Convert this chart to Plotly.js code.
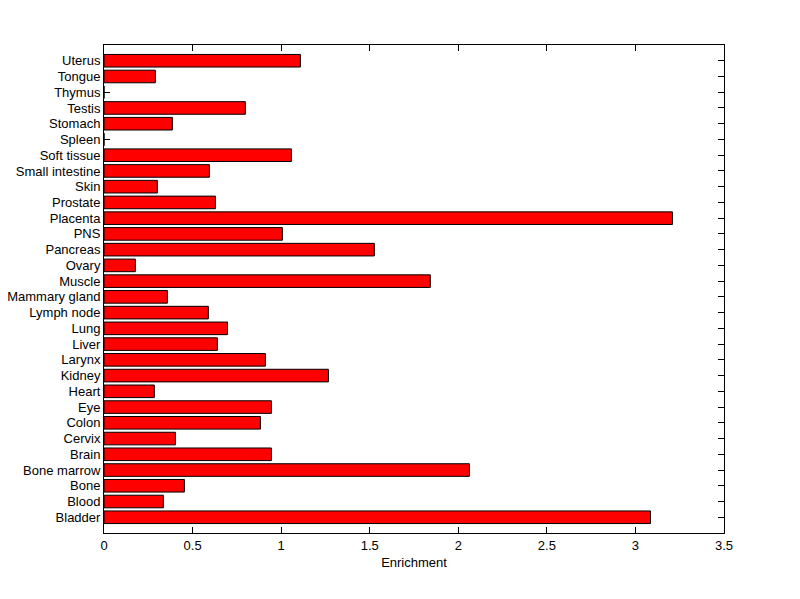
<!DOCTYPE html>
<html>
<head>
<meta charset="utf-8">
<script src="https://cdn.plot.ly/plotly-3.0.1.min.js"></script>
<style>html,body{margin:0;padding:0;background:#fff;}#chart{width:800px;height:599px;}</style>
</head>
<body>
<div id="chart"></div>
<script>
const tissues = ["Bladder","Blood","Bone","Bone marrow","Brain","Cervix","Colon","Eye","Heart","Kidney","Larynx","Liver","Lung","Lymph node","Mammary gland","Muscle","Ovary","Pancreas","PNS","Placenta","Prostate","Skin","Small intestine","Soft tissue","Spleen","Stomach","Testis","Thymus","Tongue","Uterus"];
const enrichment = [3.085,0.335,0.454,2.063,0.945,0.403,0.883,0.945,0.284,1.267,0.911,0.640,0.697,0.589,0.358,1.842,0.177,1.526,1.007,3.209,0.629,0.301,0.595,1.058,0,0.386,0.798,0,0.290,1.109];
const xTicks = [0,0.5,1,1.5,2,2.5,3,3.5];
const xTickText = ["0","0.5","1","1.5","2","2.5","3","3.5"];

const font = {family: "Liberation Sans, Arial, sans-serif", size: 13, color: "#000"};

Plotly.newPlot("chart", [{
  type: "bar",
  orientation: "h",
  x: enrichment,
  y: tissues,
  width: 0.8,
  marker: {color: "#ff0000", line: {color: "#000", width: 1}},
  hoverinfo: "x+y"
}], {
  width: 800, height: 599,
  margin: {l: 104, r: 76, t: 45, b: 66, pad: 0},
  paper_bgcolor: "#fff", plot_bgcolor: "#fff",
  font: font,
  showlegend: false,
  xaxis: {
    range: [0, 3.5],
    tickmode: "array", tickvals: xTicks, ticktext: xTickText,
    ticks: "inside", ticklen: 6, tickwidth: 1, tickcolor: "#000",
    showline: true, linecolor: "#000", linewidth: 1, mirror: "ticks",
    showgrid: false, zeroline: false,
    tickfont: font,
    title: {text: "Enrichment", font: font, standoff: 6},
    layer: "below traces"
  },
  yaxis: {
    type: "category",
    range: [-1, 30],
    tickmode: "array", tickvals: tissues, ticktext: tissues,
    ticks: "inside", ticklen: 6, tickwidth: 1, tickcolor: "#000",
    showline: true, linecolor: "#000", linewidth: 1, mirror: "ticks",
    showgrid: false, zeroline: false,
    tickfont: font,
    ticklabelstandoff: 0,
    layer: "below traces"
  }
}, {displayModeBar: false, staticPlot: true});
</script>
</body>
</html>
